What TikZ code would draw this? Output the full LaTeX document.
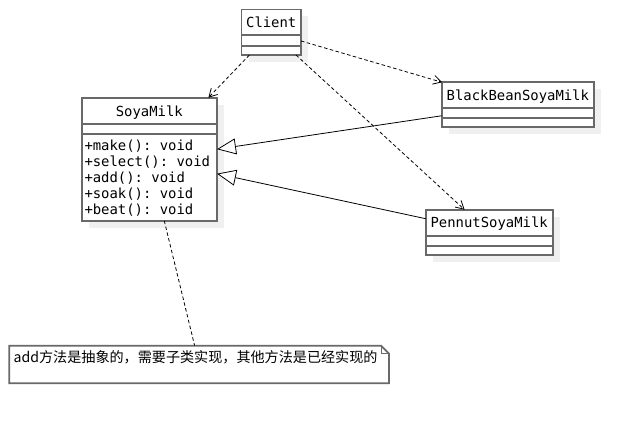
\documentclass[tikz,border=0pt]{standalone}
\usepackage{fontspec}
\setmonofont{DejaVu Sans Mono}
\newfontfamily\cjk{Noto Sans CJK SC}
\usetikzlibrary{arrows.meta,calc}
\definecolor{boxc}{RGB}{105,105,105}
\definecolor{shadc}{RGB}{240,240,240}
\tikzset{
  x=1pt,y=-1pt,
  cls/.style={draw=boxc,line width=1.8pt,fill=white,inner sep=0pt,outer sep=0pt,rectangle},
  ttl/.style={font=\fontsize{13.9}{14}\selectfont\ttfamily,inner sep=0pt,anchor=center},
  mth/.style={font=\fontsize{13.9}{14}\selectfont\ttfamily,inner sep=0pt,anchor=west},
  dvd/.style={draw=boxc,line width=1.8pt},
  dep/.style={dash pattern=on 3.5pt off 2.5pt,line width=0.8pt,-{Straight Barb[length=8pt,width=9pt,line width=0.8pt]}},
  gen/.style={line width=0.8pt,-{Triangle[open,length=19pt,width=16pt,fill=white,line width=0.8pt]}},
  ann/.style={dash pattern=on 3.5pt off 2.5pt,line width=0.8pt},
  shd/.style={fill=shadc}
}
\begin{document}
\begin{tikzpicture}
\useasboundingbox (0,0) rectangle (633,425);
% shadows
\fill[shd] (248.5,16.5) rectangle (308,62);
\fill[shd] (88.7,104.7) rectangle (224,227.7);
\fill[shd] (448.7,89.3) rectangle (601,133.7);
\fill[shd] (432.7,216.7) rectangle (559.7,262);
% Client
\node[cls,minimum width=59.5pt,minimum height=45.5pt] (client) at (271.25,32.25) {};
\draw[dvd] (241.5,35) -- (301,35);
\draw[dvd] (241.5,45.7) -- (301,45.7);
\node[ttl] (clientT) at (271.25,22.5) {Client};
% SoyaMilk
\node[cls,minimum width=135.3pt,minimum height=123pt] (soya) at (149.35,159.2) {};
\draw[dvd] (81.7,124.3) -- (217,124.3);
\draw[dvd] (81.7,133.7) -- (217,133.7);
\node[ttl] (soyaT) at (149.35,112.5) {SoyaMilk};
\node[mth] (m1) at (84.3,146) {+make(): void};
\node[mth] (m2) at (84.3,162.2) {+select(): void};
\node[mth] (m3) at (84.3,178.2) {+add(): void};
\node[mth] (m4) at (84.3,194.2) {+soak(): void};
\node[mth] (m5) at (84.3,210) {+beat(): void};
% BlackBean
\node[cls,minimum width=152.3pt,minimum height=44.4pt] (black) at (517.85,104.5) {};
\draw[dvd] (441.7,107.7) -- (594,107.7);
\draw[dvd] (441.7,117.7) -- (594,117.7);
\node[ttl] (blackT) at (517.85,96.3) {BlackBeanSoyaMilk};
% Pennut
\node[cls,minimum width=127pt,minimum height=45.3pt] (pennut) at (489.2,232.35) {};
\draw[dvd] (425.7,235.7) -- (552.7,235.7);
\draw[dvd] (425.7,245.7) -- (552.7,245.7);
\node[ttl] (pennutT) at (489.2,224) {PennutSoyaMilk};
% Note
\coordinate (nc) at (199.2,364.5);
\draw[boxc,line width=1.8pt,fill=white] (9.3,345.7) -- (381,345.7) -- (389,353.7) -- (389,383.3) -- (9.3,383.3) -- cycle;
\draw[boxc,line width=1pt] (381,345.7) -- (381,353.7) -- (389,353.7);
\node[inner sep=0pt,minimum width=379.7pt,minimum height=37.6pt] (note) at (nc) {};
\node[font=\fontsize{14.1}{15}\selectfont\cjk,inner sep=0pt,anchor=west] (noteT) at (13.5,357) {add方法是抽象的，需要子类实现，其他方法是已经实现的};
% connectors
\draw[dep] (client) -- (soya);
\draw[dep] (client) -- (black);
\draw[dep] (client) -- (pennut);
\draw[gen] (black) -- (soya);
\draw[gen] (pennut) -- (soya);
\draw[ann] (soya) -- (note);
\end{tikzpicture}
\end{document}
